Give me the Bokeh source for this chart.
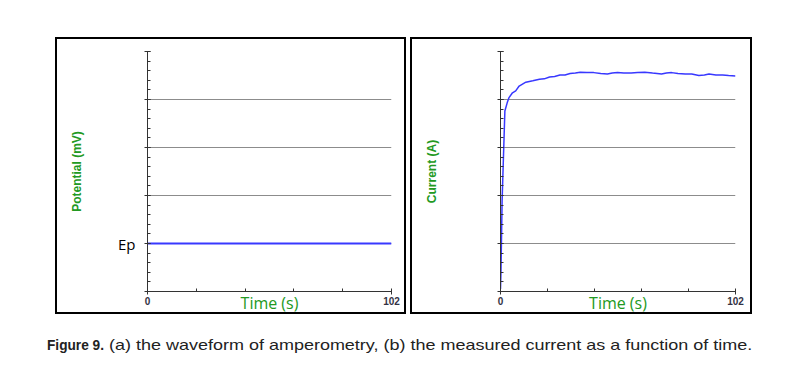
from bokeh.plotting import figure
from bokeh.models import FixedTicker, Spacer, Div, Range1d
from bokeh.layouts import row, column
from bokeh.embed import file_html
from bokeh.resources import INLINE

# ---------------- data ----------------
wave_time = [0, 102]
wave_potential = [1, 1]          # constant applied potential Ep

cur_time = [0, 0.2, 0.7, 1.9, 2.9, 3.7, 5.2, 6.6, 8.1, 11.0, 14.0, 16.9, 19.0,
            21.3, 23.5, 25.8, 28.0, 30.2, 32.5, 34.6, 37.5, 40.5, 43.5, 46.4,
            48.5, 50.8, 53.5, 56.7, 59.5, 62.6, 66.0, 69.9, 72.0, 74.3, 77.0,
            80.2, 83.0, 86.1, 88.5, 90.5, 93.5, 96.4, 99.0, 102]
cur_vals = [0.05, 0.4, 1.9, 3.76, 3.93, 4.04, 4.14, 4.18, 4.28, 4.36, 4.39, 4.42, 4.43,
            4.47, 4.48, 4.51, 4.51, 4.54, 4.55, 4.57, 4.56, 4.56, 4.54, 4.53,
            4.55, 4.56, 4.55, 4.55, 4.56, 4.57, 4.55, 4.53, 4.55, 4.56, 4.54,
            4.53, 4.53, 4.50, 4.51, 4.53, 4.51, 4.51, 4.50, 4.49]

y_major = [0, 1, 2, 3, 4, 5]
y_minor = [i * 0.2 for i in range(26)]
x_major = [0, 102]
x_minor = [20.4, 40.8, 61.2, 81.6]
left_tick_labels = {0: "", 1: "Ep", 2: "", 3: "", 4: "", 5: ""}
right_tick_labels = {0: "", 1: "", 2: "", 3: "", 4: "", 5: ""}

GREEN = "#229922"
BLUE = "#3838ff"
GRID = "#8c8c8c"


def make_panel(width, height, mb, ylabel, ylabels, y_label_standoff, y_major_standoff):
    p = figure(width=width, height=height, output_backend="svg", toolbar_location=None,
               x_range=Range1d(0, 102), y_range=Range1d(0, 5),
               min_border_left=mb[0], min_border_right=mb[1],
               min_border_top=mb[2], min_border_bottom=mb[3])
    p.styles = {"border": "2px solid black", "box-sizing": "content-box"}
    p.outline_line_color = None
    p.background_fill_color = "white"
    p.border_fill_color = "white"
    p.xgrid.visible = False
    p.ygrid.ticker = FixedTicker(ticks=y_major)
    p.ygrid.grid_line_color = GRID
    p.ygrid.grid_line_width = 1

    p.xaxis.ticker = FixedTicker(ticks=x_major, minor_ticks=x_minor)
    p.yaxis.ticker = FixedTicker(ticks=y_major, minor_ticks=y_minor)
    for ax in (p.xaxis, p.yaxis):
        ax.axis_line_color = "#333333"
        ax.major_tick_line_color = "#333333"
        ax.minor_tick_line_color = "#333333"
        ax.major_tick_in = 3
        ax.major_tick_out = 3
        ax.minor_tick_in = 3
        ax.minor_tick_out = 0

    p.xaxis.axis_label = "Time (s)"
    p.xaxis.axis_label_text_font = "Open Sans"
    p.xaxis.axis_label_text_font_style = "normal"
    p.xaxis.axis_label_text_font_size = "16px"
    p.xaxis.axis_label_text_color = GREEN
    p.xaxis.axis_label_standoff = -16
    p.xaxis.major_label_text_font = "Liberation Sans"
    p.xaxis.major_label_text_font_style = "bold"
    p.xaxis.major_label_text_font_size = "10px"
    p.xaxis.major_label_text_color = "#333344"
    p.xaxis.major_label_standoff = 2

    p.yaxis.axis_label = ylabel
    p.yaxis.axis_label_text_font = "Liberation Sans"
    p.yaxis.axis_label_text_font_style = "bold"
    p.yaxis.axis_label_text_font_size = "12px"
    p.yaxis.axis_label_text_color = GREEN
    p.yaxis.axis_label_standoff = y_label_standoff
    p.yaxis.major_label_overrides = ylabels
    p.yaxis.major_label_text_font = "Open Sans"
    p.yaxis.major_label_text_font_size = "15px"
    p.yaxis.major_label_text_color = "black"
    p.yaxis.major_label_standoff = y_major_standoff
    return p


p1 = make_panel(347, 273, (90, 17, 11, 25), "Potential (mV)", left_tick_labels, 31, 9)
p1.line(wave_time, wave_potential, line_color=BLUE, line_width=2)

p2 = make_panel(338, 273, (88, 19, 12, 23), "Current (A)", right_tick_labels, 59, 0)
p2.line(cur_time, cur_vals, line_color=BLUE, line_width=1.5)

caption = Div(
    text=('<div style="transform: scaleX(1.24); transform-origin: 0 0; white-space: nowrap; '
          'font-family: \'Liberation Sans\', Arial, sans-serif; font-size: 14.5px; '
          'line-height: 17px; color: #222;">'
          '<span style="display: inline-block; width: 46px; transform: scaleX(0.76); '
          'transform-origin: 0 0; font-weight: bold;">Figure 9.</span> '
          '(a) the waveform of amperometry, (b) the measured current as a function of time.</div>'),
    width=700, height=20, margin=0)

layout = column(
    Spacer(height=37),
    row(Spacer(width=55), p1, Spacer(width=4), p2),
    Spacer(height=23),
    row(Spacer(width=47), caption),
)

open("out.html", "w").write(file_html(layout, INLINE))
